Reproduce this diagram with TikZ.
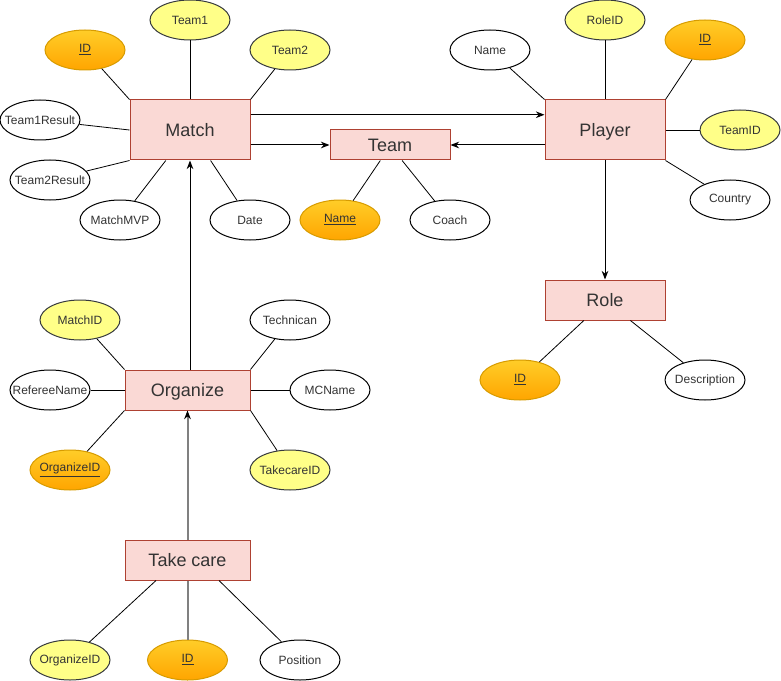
\documentclass[tikz,border=0pt]{standalone}
\usepackage{fontspec}
\setmainfont{Liberation Sans}
\usetikzlibrary{positioning, calc, arrows.meta, shapes.geometric}

\definecolor{entfill}{HTML}{FAD9D5}
\definecolor{entline}{HTML}{AE4132}
\definecolor{fkfill}{HTML}{FFFF88}
\definecolor{fkline}{HTML}{36393D}
\definecolor{pktop}{HTML}{FFCD28}
\definecolor{pkbot}{HTML}{FFA500}
\definecolor{pkline}{HTML}{D79B00}
\definecolor{txtdark}{HTML}{333333}
\definecolor{greyline}{HTML}{808080}

% keep ellipse size independent of label length
\newcommand{\attrlbl}[1]{\makebox[0pt]{#1}}

\begin{document}
\begin{tikzpicture}[x=0.75pt, y=-0.75pt,
  entity/.style={rectangle, draw=entline, fill=entfill, line width=0.75pt, minimum width=90pt, minimum height=45pt, inner sep=0pt, text height=9.7pt, text depth=0pt, text=txtdark, font=\fontsize{13.5}{16}\selectfont},
  attr/.style={ellipse, draw=black, fill=white, line width=0.75pt, minimum width=60pt, minimum height=30pt, inner sep=0pt, text=txtdark, font=\fontsize{9}{11}\selectfont},
  fkattr/.style={attr, draw=fkline, fill=fkfill},
  pkattr/.style={attr, draw=pkline, top color=pktop, bottom color=pkbot},
  link/.style={draw=black, line width=0.6pt},
  greylink/.style={draw=greyline, line width=1.5pt},
  rel/.style={draw=black, line width=0.75pt, -{Stealth[length=6.5pt, width=5pt]}}]
\useasboundingbox (0,0) rectangle (781,681);

% entities
\node[entity](match) at (190,130) {Match};
\node[entity, minimum height=22.5pt](team) at (390,145) {Team};
\node[entity](player) at (605,130) {Player};
\node[entity, minimum height=30pt](role) at (605,300) {Role};
\node[entity, minimum width=93.75pt, minimum height=30pt](organize) at (187.5,390) {Organize};
\node[entity, minimum width=93.75pt, minimum height=30pt](takecare) at (187.5,560) {Take care};

% Match attributes
\node[pkattr](matchid) at (85,50) {\attrlbl{\underline{ID}}};
\node[fkattr](team1) at (190,20) {\attrlbl{Team1}};
\node[fkattr](team2) at (290,50) {\attrlbl{Team2}};
\node[attr](team1res) at (40,120) {\attrlbl{Team1Result}};
\node[attr](team2res) at (50,180) {\attrlbl{Team2Result}};
\node[attr](mvp) at (120,220) {\attrlbl{MatchMVP}};
\node[attr](date) at (250,220) {\attrlbl{Date}};

\draw[link](matchid) -- (match.north west);
\draw[link](team1) -- (match.north);
\draw[link](team2) -- (match.north east);
\draw[link](team1res) -- (match.west);
\draw[link](team2res) -- (match.south west);
\draw[link](mvp) -- ($(match.south west)!0.3!(match.south east)$);
\draw[link](date) -- ($(match.south west)!0.67!(match.south east)$);

% Team attributes
\node[pkattr](teamname) at (340,220) {\attrlbl{\underline{Name}}};
\node[attr](coach) at (450,220) {\attrlbl{Coach}};
\draw[link](teamname) -- ($(team.south west)!0.42!(team.south east)$);
\draw[link](coach) -- ($(team.south west)!0.6!(team.south east)$);

% Player attributes
\node[attr](pname) at (490,50) {\attrlbl{Name}};
\node[fkattr](roleid) at (605,20) {\attrlbl{RoleID}};
\node[pkattr](playerid) at (705,40) {\attrlbl{\underline{ID}}};
\node[fkattr](teamid) at (740,130) {\attrlbl{TeamID}};
\node[attr](country) at (730,200) {\attrlbl{Country}};

\draw[link](pname) -- (player.north west);
\draw[link](roleid) -- (player.north);
\draw[link](playerid) -- (player.north east);
\draw[link](teamid) -- (player.east);
\draw[link](country) -- (player.south east);

% Role attributes
\node[pkattr](rid) at (520,380) {\attrlbl{\underline{ID}}};
\node[attr](descr) at (705,380) {\attrlbl{Description}};
\draw[link](rid) -- ($(role.south west)!0.325!(role.south east)$);
\draw[link](descr) -- ($(role.south west)!0.71!(role.south east)$);

% Organize attributes
\node[fkattr](omatchid) at (80,320) {\attrlbl{MatchID}};
\node[attr](tech) at (290,320) {\attrlbl{Technican}};
\node[attr](referee) at (50,390) {\attrlbl{RefereeName}};
\node[attr](mcname) at (330,390) {\attrlbl{MCName}};
\node[pkattr](orgid) at (70,470) {\attrlbl{\underline{OrganizeID}}};
\node[fkattr](tcareid) at (290,470) {\attrlbl{TakecareID}};

\draw[link](omatchid) -- (organize.north west);
\draw[link](tech) -- (organize.north east);
\draw[link](referee) -- (organize.west);
\draw[link](mcname) -- (organize.east);
\draw[link](orgid) -- (organize.south west);
\draw[link](tcareid) -- (organize.south east);

% Take care attributes
\node[fkattr](tcorgid) at (70,660) {\attrlbl{OrganizeID}};
\node[pkattr](tcid) at (187.5,660) {\attrlbl{\underline{ID}}};
\node[attr](position) at (300,660) {\attrlbl{Position}};

\draw[link](tcorgid) -- ($(takecare.south west)!0.25!(takecare.south east)$);
\draw[greylink](takecare) -- (tcid);
\draw[link](position) -- ($(takecare.south west)!0.75!(takecare.south east)$);

% relations
\draw[rel]($(match.north east)!0.25!(match.south east)$) -- ($(player.north west)!0.25!(player.south west)$);
\draw[rel](match.east |- team.west) -- (team.west);
\draw[rel](player.west |- team.east) -- (team.east);
\draw[rel](player) -- (role);
\draw[rel](organize.north -| match.south) -- (match.south);
\draw[greylink, -{Stealth[length=6.5pt, width=5pt, color=black]}](takecare) -- (organize);
\end{tikzpicture}
\end{document}
